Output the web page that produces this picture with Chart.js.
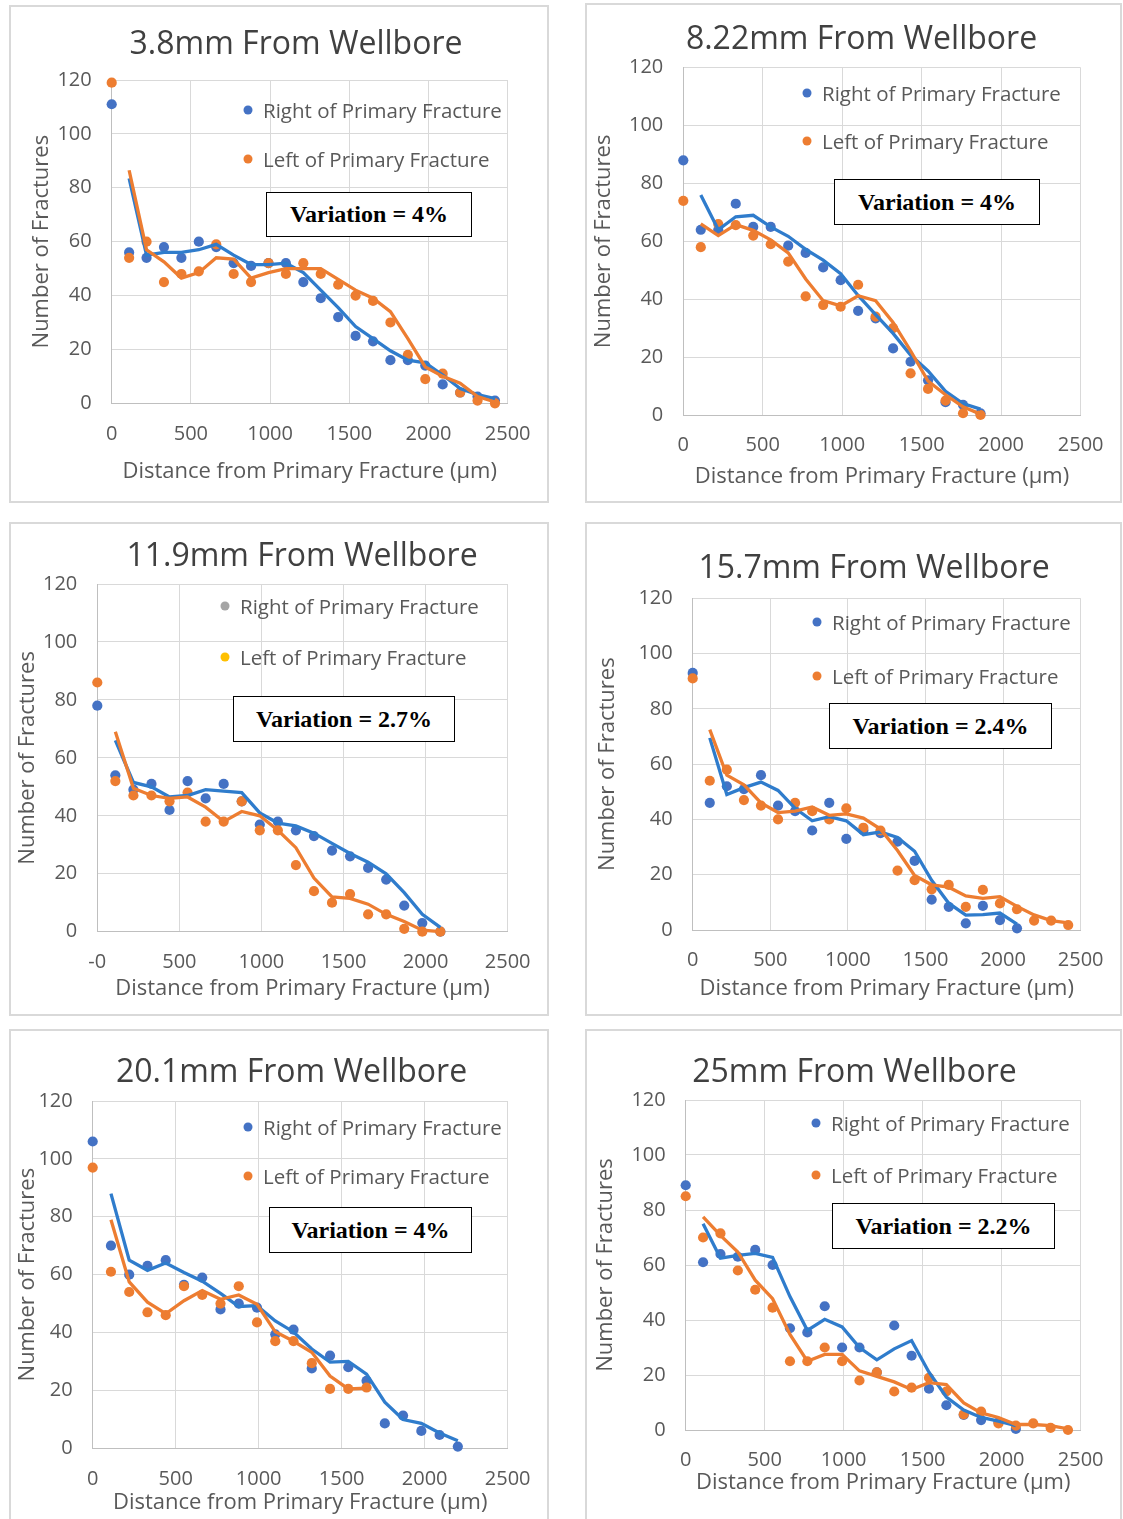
<!DOCTYPE html>
<html>
<head>
<meta charset="utf-8">
<script src="https://cdn.jsdelivr.net/npm/chart.js@4.4.1/dist/chart.umd.min.js"></script>
<style>
  body { margin: 0; background: #fff; }
  #page { position: relative; width: 1123px; height: 1519px; overflow: hidden; font-family: "Open Sans", sans-serif; }
  .panel { position: absolute; outline: 2px solid #d9d9d9; outline-offset: -2px; }
  .panel canvas { position: absolute; left: 0; top: 0; }
  .title { position: absolute; transform: translate(-50%, -50%); white-space: nowrap; font-size: 32px; color: #404040; }
  .dot { position: absolute; width: 9px; height: 9px; border-radius: 50%; transform: translate(-50%, -50%); }
  .leg { position: absolute; transform: translateY(-50%); white-space: nowrap; font-size: 20.5px; color: #595959; }
  .var { position: absolute; box-sizing: border-box; border: 1.5px solid #000; background: #fff;
         display: flex; align-items: center; justify-content: center;
         font-family: "Liberation Serif", serif; font-weight: bold; font-size: 24px; color: #000; }
</style>
</head>
<body>
<div id="page"></div>
<script>
// distance from primary fracture (um), shared by all panels
const distance = [0, 110, 220, 330, 440, 550, 660, 770, 880, 990, 1100, 1210, 1320, 1430, 1540, 1650, 1760, 1870, 1980, 2090, 2200, 2310, 2420];

const titles = ['3.8mm From Wellbore', '8.22mm From Wellbore', '11.9mm From Wellbore',
                '15.7mm From Wellbore', '20.1mm From Wellbore', '25mm From Wellbore'];
const variations = ['Variation = 4%', 'Variation = 4%', 'Variation = 2.7%',
                    'Variation = 2.4%', 'Variation = 4%', 'Variation = 2.2%'];

const xTickLabels = ['0', '500', '1000', '1500', '2000', '2500'];
const xTickLabelsOdd = ['-0', '500', '1000', '1500', '2000', '2500'];

// number of fractures, right / left of primary fracture
const right38 = [111, 56, 54, 58, 54, 60, 58, 52, 51, 52, 52, 45, 39, 32, 25, 23, 16, 16, 14, 7, 4, 2.5, 1];
const left38  = [119, 54, 60, 45, 48, 49, 59, 48, 45, 52, 48, 52, 48, 44, 40, 38, 30, 18, 9, 11, 4, 1, 0];

const right822 = [88, 64, 64, 73, 65, 65, 58.5, 56, 51, 46.6, 36, 33.4, 23, 18.4, 12, 4.4, 3.5, 0.6];
const left822  = [74, 58, 66, 65.6, 62, 59, 53, 41, 38, 37.4, 45, 34, 30, 14.4, 9, 5, 0.6, 0];

const right119 = [78, 54, 49, 51, 42, 52, 46, 51, 45, 37, 38, 35, 33, 28, 26, 22, 18, 9, 3, 0];
const left119  = [86, 52, 47, 47, 45, 48, 38, 38, 45, 35, 35, 23, 14, 10, 13, 6, 6, 1, 0, 0];

const right157 = [93, 46, 52, 51, 56, 45, 43, 36, 46, 33, 36, 35, 32, 25, 11, 8.4, 2.4, 8.7, 3.6, 0.6];
const left157  = [91, 54, 58, 47, 45, 40, 46, 43, 40, 44, 37, 36, 21.5, 18, 14.7, 16.3, 8.4, 14.5, 9.6, 7.5, 3.4, 3.4, 1.8];

const right201 = [106, 70, 60, 63, 65, 56.5, 59, 48, 50, 48.6, 39.4, 41, 27.6, 32, 28, 23.3, 8.6, 11.3, 6, 4.6, 0.6];
const left201  = [97, 61, 54, 47, 46, 56, 53, 50, 56, 43.5, 37, 37, 29.4, 20.5, 20.5, 21];

const right25 = [89, 61, 64, 63, 65.5, 60, 37, 35.5, 45, 30, 30, 21, 38, 27, 15, 9, 5.5, 3.6, 2.8, 0.4];
const left25  = [85, 70, 71.5, 58, 51, 44.5, 25, 25, 30, 25, 18, 21, 14, 15.4, 19, 14, 5.7, 6.7, 2.4, 1.6, 2.4, 0.8, 0];

const BLUE = '#4472c4', ORANGE = '#ed7d31', BLUE_LINE = '#2f7ccc';

const panels = [
  { right: right38, left: left38, xLabels: xTickLabels, legend: [BLUE, ORANGE] },
  { right: right822, left: left822, xLabels: xTickLabels, legend: [BLUE, ORANGE] },
  { right: right119, left: left119, xLabels: xTickLabelsOdd, legend: ['#a5a5a5', '#ffc000'] },
  { right: right157, left: left157, xLabels: xTickLabels, legend: [BLUE, ORANGE] },
  { right: right201, left: left201, xLabels: xTickLabels, legend: [BLUE, ORANGE] },
  { right: right25, left: left25, xLabels: xTickLabels, legend: [BLUE, ORANGE] }
];

// page layout of each panel (px)
const layouts = [
  { box: [9, 5, 540, 498], plot: [111.7, 80, 507.7, 403.3], titleAt: [296, 41], yTitleX: 42, xTitleY: 472, legendAt: [248, 110, 159], varBox: [266, 192, 472, 237] },
  { box: [585, 3, 537, 500], plot: [683.3, 67.7, 1086.7, 415], titleAt: [861.5, 36], yTitleX: 604, xTitleY: 477, legendAt: [807, 93, 141], varBox: [834, 179, 1040, 225] },
  { box: [9, 522, 540, 494], plot: [97.3, 584, 508.3, 931.7], titleAt: [302, 553], yTitleX: 28, xTitleY: 989, legendAt: [225, 606, 657], varBox: [233, 696, 455, 742] },
  { box: [585, 522, 537, 494], plot: [692.7, 598.3, 1082.3, 930], titleAt: [874, 565], yTitleX: 608, xTitleY: 989, legendAt: [817, 622, 676], varBox: [829, 703, 1052, 749] },
  { box: [9, 1029, 540, 492], plot: [92.7, 1101, 508.3, 1448.3], titleAt: [291.5, 1069], yTitleX: 28, xTitleY: 1503, legendAt: [248, 1127, 1176], varBox: [269, 1207, 472, 1253] },
  { box: [585, 1029, 537, 492], plot: [685.7, 1100, 1086.7, 1430], titleAt: [854.5, 1069], yTitleX: 606, xTitleY: 1483, legendAt: [816, 1123, 1175], varBox: [832, 1203, 1055, 1249] }
];

Chart.defaults.font.family = '"Open Sans", sans-serif';

function toPoints(ys) {
  return ys.map((y, i) => ({ x: distance[i], y: y }));
}

// Excel style 2-period moving average trendline
function movingAverage(ys) {
  const out = [];
  for (let i = 1; i < ys.length; i++) {
    out.push({ x: distance[i], y: (ys[i - 1] + ys[i]) / 2 });
  }
  return out;
}

function addEl(cls, css, text) {
  const el = document.createElement('div');
  el.className = cls;
  Object.assign(el.style, css);
  if (text) el.textContent = text;
  document.getElementById('page').appendChild(el);
  return el;
}

panels.forEach(function (p, i) {
  const L = layouts[i];
  const [bx, by, w, h] = L.box;
  const axisW = L.plot[0] - bx;
  const topPad = L.plot[1] - by;
  const rightPad = bx + w - L.plot[2];
  const axisH = by + h - L.plot[3];
  const titleLH = 22 * 1.2;

  const div = addEl('panel', { left: bx + 'px', top: by + 'px', width: w + 'px', height: h + 'px' });
  const canvas = document.createElement('canvas');
  canvas.width = w; canvas.height = h;
  canvas.style.width = w + 'px'; canvas.style.height = h + 'px';
  div.appendChild(canvas);

  new Chart(canvas, {
    type: 'scatter',
    data: {
      datasets: [
        { type: 'line', data: movingAverage(p.left), borderColor: ORANGE, borderWidth: 3.3, pointRadius: 0, tension: 0, fill: false, order: 0, clip: false },
        { type: 'line', data: movingAverage(p.right), borderColor: BLUE_LINE, borderWidth: 3.3, pointRadius: 0, tension: 0, fill: false, order: 1, clip: false },
        { data: toPoints(p.left), pointRadius: 5.1, pointBackgroundColor: ORANGE, pointBorderWidth: 0, order: 2, clip: false },
        { data: toPoints(p.right), pointRadius: 5.1, pointBackgroundColor: BLUE, pointBorderWidth: 0, order: 3, clip: false }
      ]
    },
    options: {
      responsive: false,
      animation: false,
      devicePixelRatio: 1,
      layout: { padding: { left: 0, top: topPad, right: rightPad, bottom: 0 } },
      plugins: { legend: { display: false }, tooltip: { enabled: false } },
      scales: {
        x: {
          type: 'linear', min: 0, max: 2500,
          afterFit: function (s) { s.height = axisH; },
          ticks: { stepSize: 500, padding: 18.5, color: '#595959', font: { size: 20 }, maxRotation: 0,
                   callback: function (v, idx) { return p.xLabels[idx]; } },
          grid: { color: '#d9d9d9', lineWidth: 1, drawTicks: false },
          border: { color: '#bfbfbf', width: 1 },
          title: { display: true, text: 'Distance from Primary Fracture (\u00b5m)', color: '#595959', font: { size: 22 },
                   padding: { top: 0, bottom: h - (L.xTitleY - by) - titleLH / 2 } }
        },
        y: {
          min: 0, max: 120,
          afterFit: function (s) { s.width = axisW; },
          ticks: { stepSize: 20, padding: 20, color: '#595959', font: { size: 20 } },
          grid: { color: '#d9d9d9', lineWidth: 1, drawTicks: false },
          border: { color: '#bfbfbf', width: 1 },
          title: { display: true, text: 'Number of Fractures', color: '#595959', font: { size: 22 },
                   padding: { top: (L.yTitleX - bx) - titleLH / 2, bottom: 0 } }
        }
      }
    }
  });

  addEl('title', { left: L.titleAt[0] + 'px', top: L.titleAt[1] + 'px' }, titles[i]);

  const [dx, y1, y2] = L.legendAt;
  addEl('dot', { left: dx + 'px', top: y1 + 'px', background: p.legend[0] });
  addEl('leg', { left: (dx + 15) + 'px', top: y1 + 'px' }, 'Right of Primary Fracture');
  addEl('dot', { left: dx + 'px', top: y2 + 'px', background: p.legend[1] });
  addEl('leg', { left: (dx + 15) + 'px', top: y2 + 'px' }, 'Left of Primary Fracture');

  const [vl, vt, vr, vb] = L.varBox;
  addEl('var', { left: vl + 'px', top: vt + 'px', width: (vr - vl) + 'px', height: (vb - vt) + 'px' }, variations[i]);
});
</script>
</body>
</html>
